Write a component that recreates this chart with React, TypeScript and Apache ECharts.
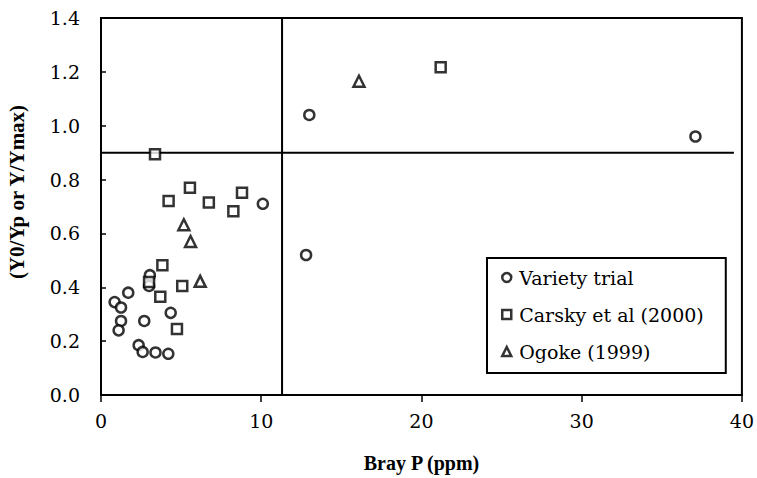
import React, { useEffect, useRef } from "react";
import * as echarts from "echarts";

// Bray P (ppm), relative yield
const varietyTrial: number[][] = [
  [13.0, 1.04], [37.1, 0.96], [12.8, 0.52], [10.1, 0.71],
  [3.05, 0.445], [3.0, 0.405], [1.7, 0.38], [0.85, 0.345], [1.25, 0.325],
  [1.25, 0.275], [1.1, 0.24], [2.7, 0.275], [4.35, 0.305], [2.35, 0.185],
  [2.6, 0.16], [3.4, 0.158], [4.2, 0.153],
];
const carsky2000: number[][] = [
  [3.37, 0.894], [5.55, 0.77], [4.22, 0.72], [6.73, 0.715], [8.8, 0.751],
  [8.26, 0.682], [3.83, 0.482], [5.07, 0.405], [3.7, 0.365], [4.74, 0.245],
  [3.0, 0.42], [21.2, 1.217],
];
const ogoke1999: number[][] = [
  [5.17, 0.632], [5.59, 0.57], [6.19, 0.422], [16.1, 1.165],
];
const seriesNames = ["Variety trial", "Carsky et al (2000)", "Ogoke (1999)"];
const criticalP = 11.3;
const criticalY = 0.9;
const vLine: number[][] = [[criticalP, 0], [criticalP, 1.4]];
const hLine: number[][] = [[0, criticalY], [39.5, criticalY]];

const FONT = "DejaVu Serif";
const TITLE_FONT = "Liberation Serif";

export default function App() {
  const ref = useRef<HTMLDivElement>(null);
  useEffect(() => {
    if (!ref.current) return;
    const chart = echarts.init(ref.current, undefined, { renderer: "svg" });
    const markerStyle = { color: "#fff", borderColor: "#000", borderWidth: 2.5 };
    chart.setOption({
      animation: false,
      backgroundColor: "#fff",
      grid: {
        left: 101, right: 11, top: 18, bottom: 83,
        show: true, borderColor: "#000", borderWidth: 2,
      },
      xAxis: {
        type: "value", min: 0, max: 40, interval: 10,
        name: "Bray P (ppm)", nameLocation: "middle", nameGap: 58,
        nameTextStyle: { fontFamily: TITLE_FONT, fontWeight: "bold", fontSize: 20, color: "#000" },
        axisLine: { lineStyle: { color: "#000", width: 2 } },
        axisTick: { show: true, inside: false, length: 7, lineStyle: { color: "#000", width: 1.5 } },
        axisLabel: { fontFamily: FONT, fontSize: 19, color: "#000", margin: 16 },
        splitLine: { show: false },
      },
      yAxis: {
        type: "value", min: 0, max: 1.4, interval: 0.2,
        axisLine: { show: true, lineStyle: { color: "#000", width: 2 } },
        axisTick: { show: true, inside: true, length: 5, lineStyle: { color: "#000", width: 1.5 } },
        axisLabel: {
          fontFamily: FONT, fontSize: 19, color: "#000", margin: 21,
          formatter: (v: number) => v.toFixed(1),
        },
        splitLine: { show: false },
      },
      graphic: [
        {
          type: "text", x: 17, y: 192, rotation: Math.PI / 2,
          style: {
            text: "(Y0/Yp or Y/Ymax)", fontFamily: TITLE_FONT, fontWeight: "bold", fontSize: 21,
            fill: "#000", align: "center", verticalAlign: "middle",
          },
        },
      ],
      legend: {
        data: seriesNames,
        orient: "vertical",
        left: 487, top: 258,
        padding: [10, 22, 12, 14],
        itemGap: 18,
        itemWidth: 9, itemHeight: 9,
        borderColor: "#000", borderWidth: 2,
        backgroundColor: "#fff",
        itemStyle: { color: "#fff", borderColor: "#000", borderWidth: 2.5 },
        textStyle: { fontFamily: FONT, fontSize: 19, color: "#000", padding: [0, 0, 0, 3] },
      },
      series: [
        {
          type: "line", data: vLine, symbol: "none", silent: true,
          lineStyle: { color: "#000", width: 2 }, z: 1,
        },
        {
          type: "line", data: hLine, symbol: "none", silent: true,
          lineStyle: { color: "#000", width: 2 }, z: 1,
        },
        {
          name: seriesNames[0], type: "scatter", data: varietyTrial,
          symbol: "circle", symbolSize: 10, itemStyle: markerStyle, z: 3,
        },
        {
          name: seriesNames[1], type: "scatter", data: carsky2000,
          symbol: "rect", symbolSize: 10, itemStyle: markerStyle, z: 3,
        },
        {
          name: seriesNames[2], type: "scatter", data: ogoke1999,
          symbol: "triangle", symbolSize: 11, itemStyle: markerStyle, z: 3,
        },
      ],
    });
    return () => chart.dispose();
  }, []);
  return (
    <div
      ref={ref}
      style={{ position: "absolute", left: 0, top: 0, width: 757, height: 478 }}
    />
  );
}
